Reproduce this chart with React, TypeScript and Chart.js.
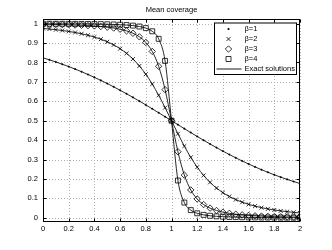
import React, { useEffect, useRef } from "react";
import { Chart, registerables } from "chart.js";

Chart.register(...registerables);

// ---- data ----
const titleText = "Mean coverage";
const xValues = [
  0, 0.05, 0.1, 0.15, 0.2, 0.25, 0.3, 0.35, 0.4, 0.45, 0.5, 0.55, 0.6, 0.65, 0.7, 0.75, 0.8, 0.85, 0.9, 0.95, 1,
  1.05, 1.1, 1.15, 1.2, 1.25, 1.3, 1.35, 1.4, 1.45, 1.5, 1.55, 1.6, 1.65, 1.7, 1.75, 1.8, 1.85, 1.9, 1.95, 2,
];
const beta1 = [
  0.8237, 0.8134, 0.8025, 0.791, 0.7788, 0.7659, 0.7524, 0.7381, 0.7232, 0.7076, 0.6914, 0.6744, 0.6569, 0.6387,
  0.62, 0.6008, 0.5812, 0.5612, 0.541, 0.5205, 0.5, 0.4795, 0.459, 0.4388, 0.4188, 0.3992, 0.38, 0.3613, 0.3431,
  0.3256, 0.3086, 0.2924, 0.2768, 0.2619, 0.2476, 0.2341, 0.2212, 0.209, 0.1975, 0.1866, 0.1763,
];
const beta2 = [
  0.9754, 0.9723, 0.9688, 0.9648, 0.96, 0.9545, 0.948, 0.9402, 0.931, 0.92, 0.9067, 0.8906, 0.8709, 0.847, 0.8177,
  0.7821, 0.7394, 0.689, 0.6311, 0.5673, 0.5, 0.4327, 0.3689, 0.311, 0.2606, 0.2179, 0.1823, 0.153, 0.1291, 0.1094,
  0.0933, 0.08, 0.069, 0.0598, 0.052, 0.0455, 0.04, 0.0352, 0.0312, 0.0277, 0.0246,
];
const beta3 = [
  0.9968, 0.9963, 0.9957, 0.9949, 0.994, 0.993, 0.9916, 0.99, 0.9879, 0.9853, 0.9819, 0.9774, 0.9713, 0.9628, 0.9505,
  0.9321, 0.9034, 0.8569, 0.7803, 0.66, 0.5, 0.34, 0.2197, 0.1431, 0.0966, 0.0679, 0.0495, 0.0372, 0.0287, 0.0226,
  0.0181, 0.0147, 0.0121, 0.01, 0.0084, 0.007, 0.006, 0.0051, 0.0043, 0.0037, 0.0032,
];
const beta4 = [
  0.9996, 0.9995, 0.9994, 0.9993, 0.9991, 0.9989, 0.9987, 0.9984, 0.998, 0.9975, 0.9968, 0.9959, 0.9946, 0.9928,
  0.9899, 0.9853, 0.9771, 0.9607, 0.9218, 0.8082, 0.5, 0.1918, 0.0782, 0.0393, 0.0229, 0.0147, 0.0101, 0.0072,
  0.0054, 0.0041, 0.0032, 0.0025, 0.002, 0.0016, 0.0013, 0.0011, 0.0009, 0.0007, 0.0006, 0.0005, 0.0004,
];
const seriesLabels = ["β=1", "β=2", "β=3", "β=4"];
const exactLabel = "Exact solutions";
const xTicks = [0, 0.2, 0.4, 0.6, 0.8, 1, 1.2, 1.4, 1.6, 1.8, 2];
const yTicks = [0, 0.1, 0.2, 0.3, 0.4, 0.5, 0.6, 0.7, 0.8, 0.9, 1];

// ---- styles ----
const FONT = "'Liberation Sans', Arial, Helvetica, sans-serif";
const FONT_SIZE = 7.5;
const markerStyles = ["circle", "crossRot", "rectRot", "rect"];
const markerRadius = [0.8, 2.8, 3.2, 3.5];
const seriesValues = [beta1, beta2, beta3, beta4];

const fmt = (v: number) => String(+v.toFixed(2));

function drawMarker(ctx: CanvasRenderingContext2D, style: string, x: number, y: number) {
  ctx.save();
  ctx.strokeStyle = "#000";
  ctx.fillStyle = "#000";
  ctx.lineWidth = 0.8;
  ctx.beginPath();
  if (style === "circle") {
    ctx.arc(x, y, 1.1, 0, Math.PI * 2);
    ctx.fill();
  } else if (style === "crossRot") {
    ctx.moveTo(x - 2, y - 2);
    ctx.lineTo(x + 2, y + 2);
    ctx.moveTo(x - 2, y + 2);
    ctx.lineTo(x + 2, y - 2);
    ctx.stroke();
  } else if (style === "rectRot") {
    ctx.moveTo(x, y - 3.2);
    ctx.lineTo(x + 3.2, y);
    ctx.lineTo(x, y + 3.2);
    ctx.lineTo(x - 3.2, y);
    ctx.closePath();
    ctx.stroke();
  } else {
    ctx.rect(x - 2.5, y - 2.5, 5, 5);
    ctx.stroke();
  }
  ctx.restore();
}

const matlabPlugin = {
  id: "matlabFrame",
  beforeDatasetsDraw(chart: any) {
    const { ctx, chartArea: a, scales } = chart;
    ctx.save();
    ctx.strokeStyle = "#b0b0b0";
    ctx.lineWidth = 1;
    ctx.setLineDash([1, 2]);
    xTicks.forEach((v) => {
      const px = Math.round(scales.x.getPixelForValue(v)) + 0.5;
      ctx.beginPath();
      ctx.moveTo(px, a.top);
      ctx.lineTo(px, a.bottom);
      ctx.stroke();
    });
    yTicks.forEach((v) => {
      const py = Math.round(scales.y.getPixelForValue(v)) + 0.5;
      ctx.beginPath();
      ctx.moveTo(a.left, py);
      ctx.lineTo(a.right, py);
      ctx.stroke();
    });
    ctx.restore();
  },
  afterDraw(chart: any) {
    const { ctx, chartArea: a, scales } = chart;
    ctx.save();
    ctx.strokeStyle = "#000";
    ctx.lineWidth = 1;
    ctx.setLineDash([]);
    const L = Math.round(a.left) + 0.5;
    const R = Math.round(a.right) - 0.5;
    const T = Math.round(a.top) + 0.5;
    const B = Math.round(a.bottom) - 0.5;
    ctx.strokeRect(L, T, R - L, B - T);
    const tl = 3;
    ctx.beginPath();
    xTicks.forEach((v) => {
      const px = Math.round(scales.x.getPixelForValue(v)) + 0.5;
      ctx.moveTo(px, B);
      ctx.lineTo(px, B - tl);
      ctx.moveTo(px, T);
      ctx.lineTo(px, T + tl);
    });
    yTicks.forEach((v) => {
      const py = Math.round(scales.y.getPixelForValue(v)) + 0.5;
      ctx.moveTo(L, py);
      ctx.lineTo(L + tl, py);
      ctx.moveTo(R, py);
      ctx.lineTo(R - tl, py);
    });
    ctx.stroke();

    // legend
    const boxW = 82;
    const rowH = 10;
    const rows = seriesLabels.length + 1;
    const boxR = R - 3;
    const boxL = boxR - boxW;
    const boxT = T + 3.5;
    const boxH = rows * rowH + 1.5;
    ctx.fillStyle = "#fff";
    ctx.fillRect(boxL, boxT, boxW, boxH);
    ctx.strokeRect(boxL, boxT, boxW, boxH);
    ctx.font = `${FONT_SIZE}px ${FONT}`;
    ctx.textBaseline = "middle";
    ctx.textAlign = "left";
    ctx.fillStyle = "#000";
    const mx = boxL + 14;
    const tx = boxL + 30;
    seriesLabels.forEach((lab, i) => {
      const cy = boxT + 6 + i * rowH;
      drawMarker(ctx, markerStyles[i], mx, cy);
      ctx.fillText(lab, tx, cy);
    });
    const ly = boxT + 6 + seriesLabels.length * rowH;
    ctx.beginPath();
    ctx.lineWidth = 0.9;
    ctx.moveTo(boxL + 2, ly);
    ctx.lineTo(boxL + 27, ly);
    ctx.stroke();
    ctx.fillText(exactLabel, tx, ly);
    ctx.restore();
  },
};

export default function App() {
  const canvasRef = useRef<HTMLCanvasElement | null>(null);

  useEffect(() => {
    document.body.style.margin = "0";
    const canvas = canvasRef.current;
    if (!canvas) return;

    const lineSets = seriesValues.map((vals, i) => ({
      label: i === 0 ? exactLabel : exactLabel + " " + (i + 1),
      data: xValues.map((x, j) => ({ x, y: vals[j] })),
      showLine: true,
      borderColor: "#111",
      borderWidth: 0.9,
      pointRadius: 0,
      cubicInterpolationMode: "monotone" as const,
      order: 2,
    }));
    const markerSets = seriesValues.map((vals, i) => ({
      label: seriesLabels[i],
      data: xValues.map((x, j) => ({ x, y: vals[j] })),
      showLine: false,
      pointStyle: markerStyles[i] as any,
      pointRadius: markerRadius[i],
      pointBorderWidth: i === 0 ? 0.4 : 0.8,
      borderColor: "#000",
      backgroundColor: i === 0 ? "#000" : "rgba(0,0,0,0)",
      order: 1,
    }));

    const chart = new Chart(canvas, {
      type: "scatter",
      data: { datasets: [...lineSets, ...markerSets] as any },
      options: {
        animation: false,
        responsive: false,
        devicePixelRatio: 1,
        layout: { padding: { left: 0, right: 32, top: 0, bottom: 0 } },
        plugins: {
          legend: { display: false },
          tooltip: { enabled: false },
          title: {
            display: true,
            text: titleText,
            fullSize: false,
            color: "#000",
            font: { family: FONT, size: FONT_SIZE, weight: "normal", lineHeight: 1.2 },
            padding: { top: 5.5, bottom: 4.5 },
          },
        },
        scales: {
          x: {
            type: "linear",
            min: 0,
            max: 2,
            grid: { display: false, drawTicks: false, tickLength: 0 },
            border: { display: false },
            afterBuildTicks: (s: any) => {
              s.ticks = xTicks.map((v) => ({ value: v }));
            },
            afterFit: (s: any) => {
              s.height = 28;
            },
            ticks: {
              color: "#000",
              padding: 2,
              maxRotation: 0,
              autoSkip: false,
              font: { family: FONT, size: FONT_SIZE },
              callback: (v: any) => fmt(Number(v)),
            },
          },
          y: {
            type: "linear",
            min: -0.022,
            max: 1.024,
            grid: { display: false, drawTicks: false, tickLength: 0 },
            border: { display: false },
            afterBuildTicks: (s: any) => {
              s.ticks = yTicks.map((v) => ({ value: v }));
            },
            afterFit: (s: any) => {
              s.width = 43;
            },
            ticks: {
              color: "#000",
              padding: 5,
              autoSkip: false,
              font: { family: FONT, size: FONT_SIZE },
              callback: (v: any) => fmt(Number(v)),
            },
          },
        },
      },
      plugins: [matlabPlugin],
    });

    return () => chart.destroy();
  }, []);

  return (
    <div style={{ position: "absolute", left: 0, top: 0, width: 332, height: 250, background: "#fff" }}>
      <canvas ref={canvasRef} width={332} height={250} style={{ display: "block" }} />
    </div>
  );
}
